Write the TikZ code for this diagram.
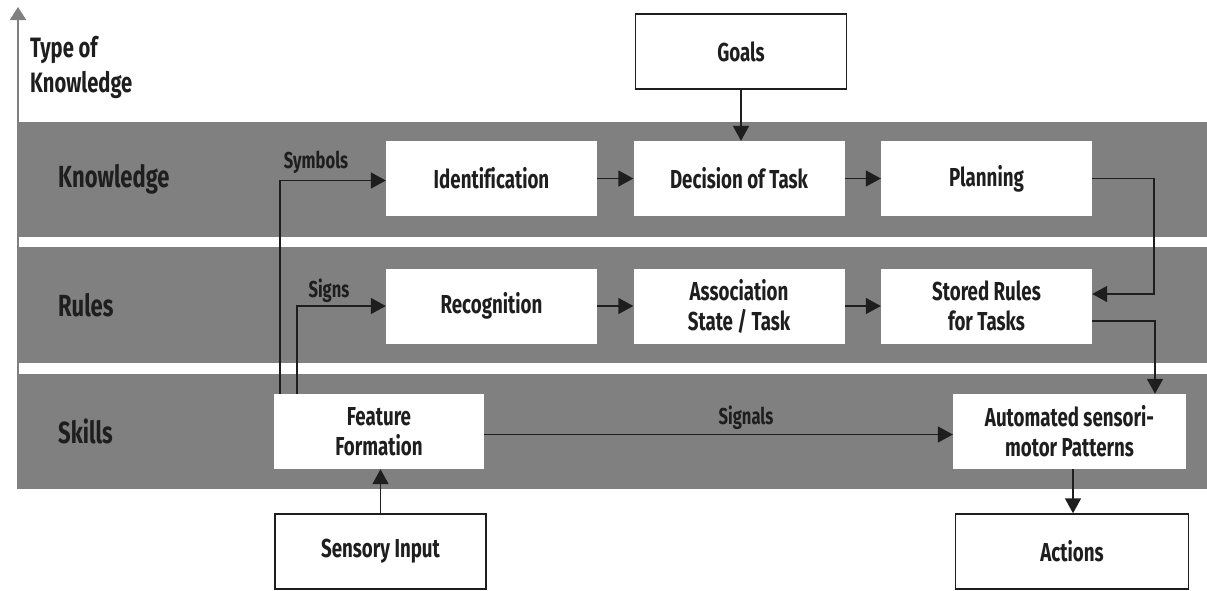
\documentclass[tikz,border=0pt]{standalone}
\usepackage{fontspec}
\setmainfont{Fira Sans}[FakeStretch=0.72, Ligatures=NoCommon]
\usetikzlibrary{arrows.meta}
\definecolor{band}{HTML}{808080}
\definecolor{ink}{HTML}{1E1E1E}
\begin{document}
\begin{tikzpicture}[x=1pt,y=-1pt,
  inbox/.style={fill=white, text=ink, minimum width=211pt, minimum height=75pt, inner sep=0pt, align=center, font=\fontsize{26}{30}\selectfont\bfseries},
  outbox/.style={inbox, draw=ink, line width=1.5pt},
  lab/.style={text=ink, font=\fontsize{30.5}{35}\selectfont\bfseries, anchor=west, inner sep=0pt},
  titlelab/.style={text=ink, font=\fontsize{28}{35}\selectfont\bfseries, inner sep=0pt, align=left},
  small/.style={text=ink, font=\fontsize{23}{26}\selectfont\bfseries, inner sep=0pt},
  conn/.style={draw=ink, line width=1.6pt, -{Triangle[length=15pt,width=16pt]}}]
\useasboundingbox (0,0) rectangle (1207,590);
% axis
\coordinate (axbot) at (18,489);
\coordinate (axtop) at (18,7);
\draw[band, line width=2pt, -{Triangle[length=13pt,width=16pt]}] (axbot) -- (axtop);
\node[titlelab, anchor=north west] (tok) at (30,36) {Type of\\Knowledge};
% bands
\fill[band] (17,122) rectangle (1207,237);
\fill[band] (17,247) rectangle (1207,363);
\fill[band] (17,374) rectangle (1207,489);
\node[lab] (lk) at (58,179) {Knowledge};
\node[lab] (lr) at (58,305) {Rules};
\node[lab] (ls) at (58,431) {Skills};
% boxes
\node[inbox] (ident) at (491.5,178.5) {Identification};
\node[inbox] (dec) at (739,178.5) {Decision of Task};
\node[inbox] (plan) at (986.5,178.5) {Planning};
\node[inbox] (rec) at (491.5,306) {Recognition};
\node[inbox] (assoc) at (739,306) {Association\\State / Task};
\node[inbox] (stored) at (986.5,306) {Stored Rules\\for Tasks};
\node[inbox, minimum width=210pt] (feat) at (379,431.5) {Feature\\Formation};
\node[inbox, minimum width=233pt] (auto) at (1069.5,431.5) {Automated sensori-\\motor Patterns};
\node[outbox] (goals) at (741,51.5) {Goals};
\node[outbox] (sens) at (380.5,551.5) {Sensory Input};
\node[outbox, minimum width=233pt] (act) at (1072,551.5) {Actions};
% connectors
\draw[conn] (goals.south) -- (goals.south |- dec.north);
\draw[conn] (sens.north) -- (sens.north |- feat.south);
\draw[conn] ([xshift=3.5pt]auto.south) -- ([xshift=3.5pt]auto.south |- act.north);
\draw[conn] ([xshift=6pt]feat.north west) |- ([yshift=-2pt]ident.west);
\draw[conn] ([xshift=23pt]feat.north west) |- (rec.west);
\draw[conn] (ident.east) -- (dec.west);
\draw[conn] (dec.east) -- (plan.west);
\draw[conn] (rec.east) -- (assoc.west);
\draw[conn] (assoc.east) -- (stored.west);
\draw[conn] (plan.east) -- ++(62,0) |- ([yshift=12pt]stored.east);
\draw[conn] ([yshift=-15pt]stored.east) -| ([xshift=85.5pt]auto.north);
\draw[conn] ([yshift=-3pt]feat.east) -- ([yshift=-3pt]auto.west);
% labels
\node[small] (lsym) at (316,162) {Symbols};
\node[small] (lsig) at (329,291) {Signs};
\node[small] (lsgl) at (746,418) {Signals};
\end{tikzpicture}
\end{document}
